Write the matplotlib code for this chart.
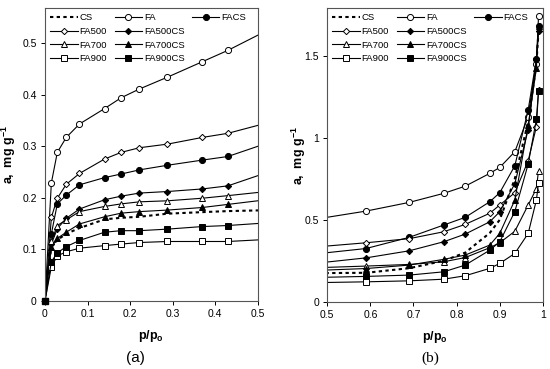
import matplotlib
matplotlib.use("Agg")
import matplotlib.pyplot as plt
from matplotlib.lines import Line2D

plt.rcParams['font.family'] = ['Liberation Sans', 'DejaVu Sans']
plt.rcParams['mathtext.fontset'] = 'custom'
plt.rcParams['mathtext.bf'] = 'Liberation Sans:bold'
plt.rcParams['mathtext.rm'] = 'Liberation Sans'

# relative pressure p/po, shared by all series
p = [0, 0.015, 0.029, 0.05, 0.081, 0.14, 0.179, 0.222, 0.288, 0.37, 0.43,
     0.59, 0.69, 0.77, 0.82, 0.877, 0.90, 0.935, 0.966, 0.985, 0.99]

cs = [0, 0.105, 0.118, 0.13, 0.141, 0.158, 0.161, 0.163, 0.169, 0.172, 0.174,
      0.177, 0.205, 0.25, 0.30, 0.42, 0.50, 0.75, 1.10, 1.45, 1.65]
fa = [0, 0.229, 0.288, 0.317, 0.343, 0.373, 0.394, 0.411, 0.434, 0.464, 0.486,
      0.553, 0.606, 0.661, 0.705, 0.783, 0.819, 0.915, 1.128, 1.45, 1.742]
facs = [0, 0.13, 0.188, 0.205, 0.225, 0.239, 0.246, 0.254, 0.263, 0.273, 0.280,
        0.325, 0.393, 0.468, 0.515, 0.61, 0.665, 0.829, 1.17, 1.48, 1.68]
fa500 = [0, 0.162, 0.199, 0.226, 0.247, 0.275, 0.288, 0.297, 0.304, 0.317, 0.325,
         0.36, 0.385, 0.427, 0.472, 0.54, 0.59, 0.665, 0.86, 1.067, 1.29]
fa500cs = [0, 0.11, 0.14, 0.16, 0.178, 0.196, 0.203, 0.209, 0.212, 0.217, 0.223,
           0.268, 0.311, 0.366, 0.413, 0.488, 0.549, 0.72, 1.05, 1.48, 1.65]
fa700 = [0, 0.115, 0.146, 0.157, 0.173, 0.183, 0.188, 0.192, 0.194, 0.199, 0.204,
         0.218, 0.228, 0.244, 0.27, 0.33, 0.36, 0.43, 0.59, 0.69, 0.80]
fa700cs = [0, 0.105, 0.121, 0.133, 0.149, 0.163, 0.170, 0.173, 0.176, 0.181, 0.187,
           0.203, 0.224, 0.259, 0.285, 0.346, 0.417, 0.62, 1.077, 1.423, 1.68]
fa900 = [0, 0.066, 0.087, 0.095, 0.102, 0.107, 0.110, 0.113, 0.115, 0.115, 0.115,
         0.122, 0.128, 0.138, 0.159, 0.204, 0.234, 0.295, 0.417, 0.62, 0.725]
fa900cs = [0, 0.076, 0.093, 0.105, 0.117, 0.133, 0.136, 0.136, 0.139, 0.144, 0.146,
           0.155, 0.163, 0.183, 0.224, 0.315, 0.366, 0.55, 0.84, 1.112, 1.287]

# label, values, marker, face colour, marker size
series = [
    ('CS', cs, None, 'k', 0),
    ('FA', fa, 'o', 'white', 4.4),
    ('FACS', facs, 'o', 'black', 4.4),
    ('FA500', fa500, 'D', 'white', 3.2),
    ('FA500CS', fa500cs, 'D', 'black', 3.2),
    ('FA700', fa700, '^', 'white', 4.4),
    ('FA700CS', fa700cs, '^', 'black', 4.4),
    ('FA900', fa900, 's', 'white', 4.0),
    ('FA900CS', fa900cs, 's', 'black', 4.0),
]

fig = plt.figure(figsize=(5.5, 3.69), dpi=100)
ax_a = fig.add_axes([0.0818, 0.185, 0.3867, 0.793])
ax_b = fig.add_axes([0.595, 0.182, 0.392, 0.796])


def draw(ax, ylab_x):
    handles = {}
    for name, y, m, fc, ms in series:
        if m is None:
            h, = ax.plot(p, y, color='black', lw=1.5, ls=(0, (1.6, 1.6)), label=name)
        else:
            h, = ax.plot(p, y, color='black', lw=0.8, marker=m, markersize=ms,
                         markerfacecolor=fc, markeredgecolor='black',
                         markeredgewidth=0.7, label=name)
        handles[name] = h
    blank = Line2D([], [], linestyle='none')
    order = ['CS', 'FA500', 'FA700', 'FA900', 'FA', 'FA500CS', 'FA700CS',
             'FA900CS', 'FACS']
    hs = [handles[k] for k in order] + [blank] * 3
    labs = order + [''] * 3
    ax.legend(hs, labs, loc='upper left', bbox_to_anchor=(0.0, 1.0), ncol=3,
              frameon=False, fontsize=6.8, handlelength=2.9, handletextpad=0.2,
              columnspacing=0.8, labelspacing=0.5, borderaxespad=0.25,
              borderpad=0.3)
    for s in ax.spines.values():
        s.set_linewidth(0.8)
        s.set_color('#555555')
    ax.tick_params(labelsize=7.5, length=3, width=0.7, direction='out', pad=3,
                   top=False, right=False)
    ax.set_xlabel(r'$\mathbf{p/p_o}$', fontsize=9)
    ax.set_ylabel(r'$\mathbf{a,\ mg\ g^{-1}}$', fontsize=9)
    ax.xaxis.set_label_coords(0.5, -0.093)
    ax.yaxis.set_label_coords(ylab_x, 0.5)


draw(ax_a, -0.128)
ax_a.set_xlim(0, 0.5)
ax_a.set_ylim(0, 0.568)
ax_a.set_xticks([0, 0.1, 0.2, 0.3, 0.4, 0.5])
ax_a.set_xticklabels(['0', '0.1', '0.2', '0.3', '0.4', '0.5'])
ax_a.set_yticks([0, 0.1, 0.2, 0.3, 0.4, 0.5])
ax_a.set_yticklabels(['0', '0.1', '0.2', '0.3', '0.4', '0.5'])
# origin marker sits on the corner, keep it whole
ax_a.plot(p[:1], fa900cs[:1], marker='s', markersize=4.0, color='black',
          clip_on=False, zorder=5)

draw(ax_b, -0.09)
ax_b.set_xlim(0.5, 1.0)
ax_b.set_ylim(0, 1.79)
ax_b.set_xticks([0.5, 0.6, 0.7, 0.8, 0.9, 1.0])
ax_b.set_xticklabels(['0.5', '0.6', '0.7', '0.8', '0.9', '1'])
ax_b.set_yticks([0, 0.5, 1.0, 1.5])
ax_b.set_yticklabels(['0', '0.5', '1', '1.5'])

fig.text(135 / 550, 1 - 358 / 369, '(a)', ha='center', va='center', fontsize=11)
fig.text(430 / 550, 1 - 358 / 369, '(b)', ha='center', va='center', fontsize=11,
         family='Liberation Serif')

fig.savefig('out.png', dpi=100)
